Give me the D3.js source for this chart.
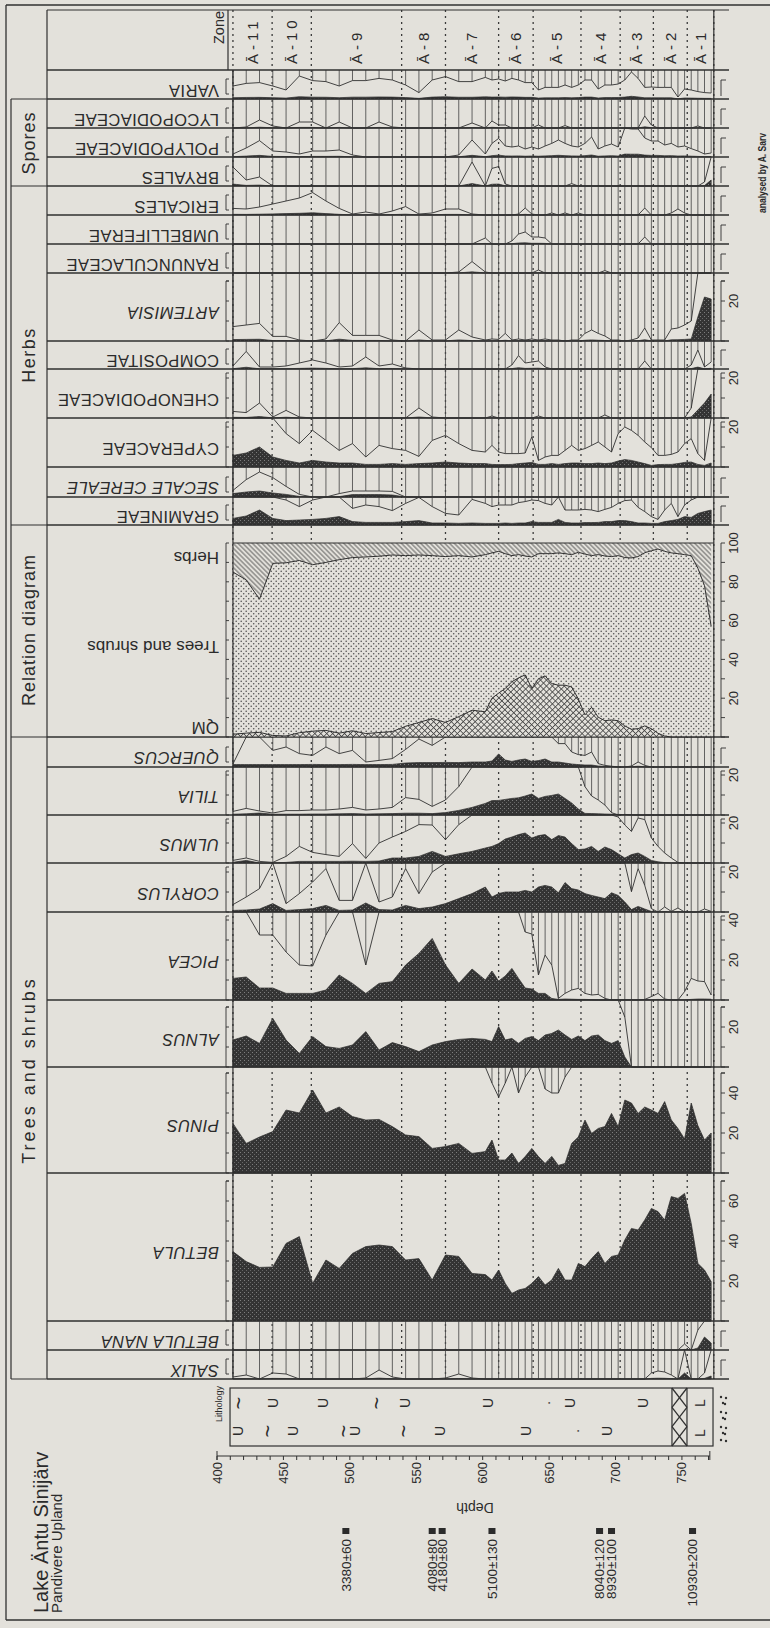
<!DOCTYPE html>
<html>
<head>
<meta charset="utf-8">
<title>Lake Äntu Sinijärv pollen diagram</title>
<script src="https://cdn.jsdelivr.net/npm/d3@7"></script>
<style>
  body { margin: 0; background: #e3e1db; }
  svg { display: block; }
  text { font-family: "Liberation Sans", Arial, sans-serif; fill: #2b2b2b; }
</style>
</head>
<body>
<svg id="chart"></svg>
<script>
// ---------------- data ----------------
// sample depths (cm)
var sampleDepths = [412, 422, 432, 442, 452, 462, 472, 482, 492, 502,
  512, 522, 532, 542, 552, 562, 572, 582, 592, 602,
  607, 612, 617, 622, 627, 632, 637, 642, 647, 652,
  657, 662, 667, 672, 677, 682, 687, 692, 697, 702,
  707, 712, 717, 722, 727, 732, 737, 742, 747, 752,
  757, 762, 767, 772];

var zoneBounds = [412, 441.5, 471, 539, 572, 612, 638, 674, 703.5, 728.5, 754, 774];
var zoneNames = ["Ā-11", "Ā-10", "Ā-9", "Ā-8", "Ā-7", "Ā-6", "Ā-5", "Ā-4", "Ā-3", "Ā-2", "Ā-1"];

var depthTicks = [400, 450, 500, 550, 600, 650, 700, 750];

var dateDepths = [497, 562, 569.5, 607, 688, 697, 758];
var dateLabels = ["3380±60", "4080±80", "4180±80", "5100±130", "8040±120", "8930±100", "10930±200"];

// lithology symbols: depth, row (0 upper / 1 lower), sign
var lithDepths = [416, 442, 480, 520, 541.5, 604, 649, 666, 721, 416, 438, 457, 495, 504, 540, 568, 633, 671, 694];
var lithRows = [0, 0, 0, 0, 0, 0, 0, 0, 0, 1, 1, 1, 1, 1, 1, 1, 1, 1, 1];
var lithSigns = ["~", "U", "U", "~", "U", "U", "·", "U", "U", "U", "~", "U", "~", "U", "~", "U", "U", "·", "U"];

// pollen percentages
var variaPct = [0.65, 0.78, 0.82, 0.65, 0.45, 1.15, 0.92, 0.87, 0.65, 0.92,
  0.92, 1.03, 0.95, 0.7, 0.32, 0.95, 1.12, 0.87, 0.87, 1.08,
  0.95, 1.0, 0.9, 1.03, 0.95, 0.82, 0.82, 0.45, 0.58, 0.58,
  0.58, 0.7, 0.58, 0.7, 0.95, 0.95, 0.5, 0.7, 0.7, 0.75,
  0.95, 1.35, 1.03, 0.58, 0.6, 0.58, 0.58, 0.58, 0.1, 0.5,
  0.45, 0.37, 0.32, 0.3];
var lycopodiaceaePct = [0, 0.05, 0.4, 0.1, 0, 0.3, 0.3, 0, 0.3, 0,
  0, 0.3, 0.05, 0, 0, 0, 0, 0, 0.25, 0,
  0.35, 0.15, 0.15, 0, 0, 0, 0, 0.15, 0, 0,
  0, 0.12, 0, 0, 0, 0, 0, 0, 0, 0,
  0, 0, 0, 0.6, 0.15, 0, 0, 0, 0, 0,
  0, 0.1, 0, 0];
var polypodiaceaePct = [0.15, 0.45, 0.82, 0.3, 0.25, 0.15, 0.3, 0.3, 0.35, 0.1,
  0, 0, 0, 0, 0, 0, 0, 0.1, 0.85, 0.15,
  0.68, 0.93, 0.55, 0.5, 0.55, 0.4, 0.5, 0.4, 0.55, 0.68,
  0.85, 0.68, 0.55, 0.5, 0.68, 1.0, 0.4, 0.55, 0.65, 0.5,
  1.45, 1.4, 1.4, 0.95, 0.8, 0.8, 0.6, 0.68, 0.5, 0.55,
  0.42, 0.3, 0.15, 0.2];
var bryalesPct = [0.95, 0.3, 0.45, 0, 0, 0, 0, 0, 0, 0,
  0, 0, 0, 0, 0, 0, 0, 0, 1.2, 0,
  0.88, 0.97, 0.1, 0, 0, 0, 0, 0, 0, 0,
  0, 0, 0.12, 0, 0, 0, 0, 0, 0, 0,
  0, 0, 0, 0, 0, 0, 0, 0, 0, 0,
  0, 0, 0.2, 3];
var ericalesPct = [0.33, 0.3, 0.4, 0.55, 0.7, 0.85, 1.12, 0.7, 0.33, 0.05,
  0.15, 0.05, 0.2, 0.42, 0.05, 0.1, 0.3, 0.3, 0.05, 0,
  0, 0, 0, 0, 0.05, 0.35, 0.05, 0, 0, 0.1,
  0, 0.1, 0, 0.1, 0, 0, 0, 0, 0, 0,
  0, 0, 0, 0.35, 0, 0, 0, 0.1, 0.3, 0.1,
  0, 0, 0, 0];
var umbelliferaePct = [0, 0, 0, 0, 0, 0, 0, 0, 0, 0,
  0, 0, 0, 0, 0, 0, 0, 0, 0, 0.3,
  0, 0, 0, 0.15, 0.5, 0.6, 0.35, 0.35, 0.3, 0,
  0, 0, 0, 0, 0, 0, 0, 0, 0, 0,
  0, 0, 0, 0.35, 0, 0, 0, 0, 0, 0,
  0, 0, 0, 0];
var ranunculaceaePct = [0, 0, 0, 0, 0, 0, 0, 0, 0, 0,
  0, 0, 0, 0, 0, 0, 0, 0.05, 0.57, 0.05,
  0, 0, 0, 0, 0, 0, 0, 0.15, 0, 0,
  0, 0, 0, 0, 0, 0, 0, 0.12, 0, 0,
  0, 0, 0, 0, 0, 0, 0, 0, 0, 0,
  0, 0, 0, 0];
var artemisiaPct = [0.72, 0.8, 0.88, 0.23, 0.23, 0.05, 0, 0.1, 0.92, 0.28,
  0.28, 0.28, 0.05, 0, 0.55, 0.05, 0.05, 0.55, 0.2, 0.05,
  0.1, 0.08, 0.38, 0.05, 0.1, 0.05, 0.1, 0.05, 0.1, 0.05,
  0.05, 0, 0.05, 0.05, 0.38, 0.55, 0.38, 0.25, 0.05, 0.05,
  0, 0.05, 0.15, 0.65, 0.05, 0.05, 0.05, 0.6, 0.65, 0.8,
  1.0, 12, 22, 21];
var compositaePct = [0.15, 0.88, 0.1, 0.1, 0.15, 0.3, 0.45, 0.3, 0.1, 0.15,
  0.6, 0.15, 0.25, 0.05, 0, 0, 0, 0, 0, 0,
  0, 0, 0, 0.2, 0.67, 0.3, 0.35, 0.4, 0.1, 0,
  0, 0, 0, 0, 0, 0, 0, 0, 0, 0,
  0, 0, 0, 0.4, 0, 0, 0, 0, 0, 0,
  0.2, 0.95, 0.1, 0.35];
var chenopodiaceaePct = [0.33, 0.27, 0.75, 0.05, 0.38, 0.05, 0, 0, 0, 0,
  0, 0, 0, 0, 0.5, 0.05, 0, 0, 0, 0,
  0.1, 0, 0, 0, 0, 0, 0, 0.1, 0, 0,
  0, 0, 0, 0, 0, 0, 0, 0.15, 0, 0,
  0, 0, 0, 0, 0, 0, 0, 0, 0, 0,
  0.5, 4, 7.5, 12];
var cyperaceaePct = [5.8, 7, 10, 5, 3.3, 2, 3.3, 2.5, 2, 2,
  1.3, 1.3, 1.7, 1.3, 1.7, 2, 2.5, 2, 1.7, 1.7,
  1.3, 1.2, 1.2, 1.3, 1.7, 2, 2.3, 1.3, 1.3, 1.7,
  1.3, 1.7, 2, 2, 1.7, 1.7, 2, 1.7, 2, 3,
  3.7, 3.3, 2.5, 1.7, 0.8, 1.2, 1.3, 1.3, 1.7, 2.3,
  2.5, 1.3, 0.8, 2];
var cyperaceaeOutline = [30, 30, 30, 30, 16.7, 11.7, 18.3, 13.3, 8.3, 11.7,
  5, 10.8, 9.2, 8.3, 5.3, 13.3, 15.8, 11.7, 8.3, 7.5,
  10.8, 7.5, 6.7, 6.7, 6.7, 7, 15, 3.3, 5, 5.8,
  5.8, 8.3, 10.8, 8.3, 9.2, 10.8, 12.5, 10, 7.5, 16.7,
  20, 18.3, 15.8, 12.5, 9.7, 5.8, 5.8, 6.3, 7.5, 11.7,
  14.2, 6.7, 3.3, 30];
var secalePct = [1.7, 2.5, 3.0, 2.0, 1.3, 0.3, 0, 0, 0.2, 1.2,
  1.2, 1.2, 1.0, 0, 0, 0, 0, 0, 0, 0,
  0, 0, 0, 0, 0, 0, 0, 0, 0, 0,
  0, 0, 0, 0, 0, 0, 0, 0, 0, 0,
  0, 0, 0, 0, 0, 0, 0, 0, 0, 0,
  0, 0, 0, 0];
var secaleOutline = [3.3, 8.7, 12.5, 9.7, 5.3, 1.3, 0, 0, 1.7, 3,
  3, 3, 2.8, 0, 0, 0, 0, 0, 0, 0,
  0, 0, 0, 0, 0, 0, 0, 0, 0, 0,
  0, 0, 0, 0, 0, 0, 0, 0, 0, 0,
  0, 0, 0, 0, 0, 0, 0, 0, 0, 0,
  0, 0, 0, 0];
var gramineaePct = [3.3, 4.5, 7.5, 3.3, 2.2, 2.5, 2.8, 3.3, 4.2, 1.7,
  1.3, 1.3, 1.3, 1.7, 2.2, 1.0, 1.0, 0.8, 1.0, 0.8,
  0.8, 0.8, 1.0, 0.8, 1.0, 1.0, 1.7, 1.3, 1.3, 1.3,
  2.8, 1.3, 1.0, 1.0, 1.2, 1.2, 1.3, 1.7, 1.7, 2.2,
  2.2, 1.7, 1.0, 1.0, 0.8, 0.8, 1.7, 2.2, 2.8, 4.2,
  3.8, 5.8, 6.7, 7.5];
var gramineaeOutline = [20, 20, 20, 20, 12.5, 9.2, 12.5, 20, 20, 8.3,
  10, 9.2, 7.2, 10.8, 13.8, 9.2, 5.8, 5, 12.8, 10.8,
  9.2, 10, 10, 10, 11.2, 11.7, 12.5, 12.2, 10.8, 10,
  20, 7.5, 7.5, 7.5, 7.8, 7.5, 6.7, 7.8, 8.8, 10.8,
  12.2, 12.5, 8.8, 6.7, 4.2, 2.8, 7.5, 10.8, 4.2, 10,
  12.5, 20, 20, 20];

// relation diagram: arboreal pollen (trees + shrubs) and QM, % of total
var apPct = [85, 81, 71, 89.5, 89.8, 91, 88.8, 90, 91.4, 92.5,
  92.8, 93.2, 93.8, 93.5, 93.8, 93.5, 93, 93.5, 92.8, 94,
  94.9, 95.7, 94.5, 93.5, 94, 93.3, 92.8, 94.5, 94.5, 94.5,
  94.9, 94.5, 94, 95.2, 94.3, 93.5, 94, 93.3, 93, 93.5,
  92.5, 92.3, 93, 95, 96, 96.9, 95.7, 94.9, 94.5, 94,
  93.5, 87, 78, 57];
var qmPct = [1.4, 2.0, 2.4, 0.8, 0.5, 2.2, 3.0, 3.4, 2.0, 3.2,
  1.8, 2.3, 2.8, 5.5, 7.5, 9.5, 7.5, 10.5, 13.8, 13,
  20, 22.6, 25, 28.5, 30.5, 32, 25, 30, 31.5, 27.5,
  26.7, 26.7, 25.8, 19.6, 11.4, 15.3, 10.2, 8.4, 8.8, 8.4,
  5.7, 4, 4.3, 5.7, 4.3, 1.9, 0.5, 0, 0, 0,
  0, 0, 0, 0];

var quercusPct = [1.2, 1.2, 1.2, 1.2, 1.2, 1.2, 1.3, 1.2, 1.2, 1.3,
  1.2, 1.2, 1.3, 2.0, 2.2, 2.2, 2.3, 2.2, 2.5, 2.5,
  3, 6.5, 3.5, 2.8, 3.5, 4, 2.8, 3.2, 4, 2.5,
  2.5, 2.0, 1.5, 1.2, 1.0, 1.0, 0.5, 0.3, 0.2, 0,
  0, 0.1, 0.4, 0.1, 0, 0, 0, 0, 0, 0,
  0, 0, 0, 0];
var quercusOutline = [1.5, 20, 20, 8.3, 10, 6.7, 5.8, 10, 6.7, 8.3,
  2.5, 3.3, 4.2, 8.8, 14, 10.8, 20, 20, 20, 20,
  20, 20, 20, 20, 20, 20, 20, 20, 20, 20,
  11.7, 11.7, 7.5, 6.2, 5.8, 7.5, 1.7, 0.8, 0.4, 0,
  0, 0.5, 2.5, 0.8, 0, 0, 0, 0, 0, 0,
  0, 0, 0, 0];
var tiliaPct = [0.4, 0.6, 1.0, 0.4, 0.4, 0.4, 0.5, 0.5, 0.6, 0.7,
  0.5, 0.6, 0.7, 0.9, 0.9, 0.7, 1.2, 2.3, 3.8, 5.8,
  7.2, 7.3, 7.8, 8.3, 8.6, 9.5, 10.5, 8.3, 9.3, 9.8,
  10.5, 8.3, 6, 3, 0.8, 0.7, 0.6, 0.5, 0.4, 0.3,
  0.2, 0.1, 0, 0, 0, 0, 0, 0, 0, 0,
  0, 0, 0, 0];
var tiliaOutline = [1.8, 3.3, 2.0, 1.0, 2.2, 2.2, 2.5, 2.5, 3, 3.8,
  2.5, 3, 3.8, 8.7, 7.8, 4.3, 7.5, 14.2, 30, 30,
  30, 30, 30, 30, 30, 30, 30, 30, 30, 30,
  30, 30, 30, 30, 14.2, 9.5, 7.5, 5, 1.2, 0,
  0.3, 0, 0, 0, 0, 0, 0, 0, 0, 0,
  0, 0, 0, 0];
var ulmusPct = [0.35, 1.3, 0, 0, 0.3, 0.8, 0.8, 0.8, 0.8, 0.9,
  0.8, 1.0, 2.5, 2.5, 3.3, 5.8, 3.3, 4.6, 5.8, 7.5,
  8.3, 9.7, 12, 13, 14.2, 15, 12.5, 13.7, 14.2, 11.7,
  13.7, 13, 9.7, 6.7, 7, 8.3, 5.8, 8, 6.7, 4.6,
  2.5, 4.2, 5, 3.3, 1.3, 0.6, 0.2, 0, 0, 0,
  0, 0, 0, 0];
var ulmusOutline = [1.3, 2.5, 0.8, 0.3, 3.3, 8.3, 5.3, 4.2, 3.3, 9.7,
  2.3, 10, 13, 15.8, 19.2, 19, 11.7, 19.2, 30, 30,
  30, 30, 30, 30, 30, 30, 30, 30, 30, 30,
  30, 30, 30, 30, 30, 30, 30, 30, 30, 23,
  19, 15.8, 22.5, 21.7, 12.5, 8.3, 5, 2.5, 0.3, 0,
  0, 0, 0, 0];
var corylusPct = [0.8, 1.0, 1.5, 4.2, 0.8, 1.2, 1.7, 3.3, 0.8, 1.0,
  4.5, 1.2, 1.0, 3.3, 1.7, 2.5, 4.2, 6.7, 9.2, 12.5,
  7.5, 9.2, 10, 10, 10, 10.8, 10, 12.5, 13.3, 12.5,
  9.6, 14.7, 11.7, 11, 9.2, 8.3, 7.5, 6.7, 9.6, 8.3,
  5, 1.2, 2.8, 1.5, 0.3, 0, 0.2, 0, 0.2, 0,
  0, 0, 0.1, 0];
var corylusOutline = [3.7, 7.5, 11.7, 30, 4.2, 9.2, 15, 21.7, 5.8, 5.8,
  30, 5, 7.5, 21.7, 9.2, 20, 30, 30, 30, 30,
  30, 30, 30, 30, 30, 30, 30, 30, 30, 30,
  30, 30, 30, 30, 30, 30, 30, 30, 30, 30,
  30, 10.2, 21.7, 13.3, 1.7, 0, 2.5, 0.3, 2, 0,
  0, 0, 1.5, 0.3];
var piceaPct = [10.8, 11.5, 6, 6, 3.3, 3.3, 3.3, 5, 12.5, 8.3,
  3.3, 8.3, 9.2, 17.5, 23.3, 30.8, 17.5, 8.3, 15.5, 10,
  14.5, 9.5, 12, 15.8, 10.8, 6, 5.5, 3.3, 3.3, 0.8,
  0.3, 0.5, 0.4, 0.3, 0.3, 0.2, 0.1, 0.1, 0.1, 0.1,
  0.1, 0.1, 0.1, 0.1, 0.1, 0.3, 0.1, 0.1, 0.1, 0.1,
  0.3, 0.5, 0.5, 0.4];
var piceaOutline = [50, 50, 32.5, 32.5, 24, 17.5, 17, 32.5, 50, 50,
  17.5, 50, 50, 50, 50, 50, 50, 50, 50, 50,
  50, 50, 50, 50, 50, 34, 33, 12.5, 22.5, 17.5,
  0.8, 3.3, 5, 5.8, 3.3, 2.5, 2.8, 0.8, 0, 0,
  0, 0, 0, 0.3, 1.7, 3.3, 0.5, 0, 0, 4.2,
  10.8, 9.5, 9.2, 2.5];
var alnusPct = [13.5, 15.5, 11.8, 24.3, 13.5, 6.8, 15.2, 10.2, 9.3, 11,
  17.7, 8.5, 12.2, 10.2, 7.7, 11, 12.7, 13.8, 14.3, 13.8,
  12.7, 20.2, 13.5, 14.3, 11.8, 14.3, 15.2, 13.2, 16, 16.8,
  18.5, 16, 13.8, 15.5, 13.2, 15.5, 16, 13.2, 11.8, 13.2,
  5, 0, 0, 0, 0, 0, 0, 0, 0, 0,
  0, 0, 0, 0];
var pinusPct = [24.8, 14.8, 18, 20.7, 31.5, 30, 41.5, 30, 33, 28.2,
  26.5, 26.8, 23.2, 19, 18.2, 12.3, 13.2, 14.8, 9.8, 10.7,
  16.5, 6.5, 6.5, 10, 4.8, 8.2, 12.3, 8.2, 4.8, 8.3,
  3.8, 4.8, 14.8, 18, 26.5, 19.8, 22.3, 23.2, 29.8, 23.2,
  36.5, 35, 29.8, 33, 31.5, 29.8, 35.7, 26.5, 22.3, 17,
  35, 23.7, 16.5, 20];
var pinusOutline = [60, 60, 60, 60, 60, 60, 60, 60, 60, 60,
  60, 60, 60, 60, 60, 60, 60, 60, 60, 60,
  45, 38, 45, 60, 40, 48, 60, 60, 42, 40,
  40, 48, 60, 60, 60, 60, 60, 60, 60, 60,
  60, 60, 60, 60, 60, 60, 60, 60, 60, 60,
  60, 60, 60, 60];
var betulaPct = [34.7, 29.7, 26.8, 27, 38.8, 42.2, 18.8, 30.5, 26.3, 33.8,
  37.2, 38, 37.2, 30.5, 31.2, 20.5, 33, 32.3, 23.8, 23.2,
  20.5, 25.5, 18.8, 13.8, 15.5, 16.3, 18.8, 22.2, 18, 20.5,
  26.3, 20.5, 20.5, 28.8, 27.2, 31.2, 34.7, 28.8, 32.3, 33,
  40.5, 46.3, 45.5, 50.5, 56.3, 54.7, 50.5, 62.2, 61.3, 63.8,
  48.8, 28.8, 25.5, 19.7];
var betulaNanaPct = [0, 0, 0, 0, 0, 0, 0, 0, 0, 0,
  0, 0, 0, 0, 0, 0, 0, 0, 0, 0,
  0, 0, 0, 0, 0, 0, 0, 0, 0, 0,
  0, 0, 0, 0, 0, 0, 0, 0, 0, 0,
  0, 0, 0, 0, 0, 0, 0, 0, 0, 0.3,
  0, 1, 6.5, 3.5];
var salixPct = [0.1, 0.2, 0, 0.3, 0.25, 0, 0, 0, 0, 0,
  0.05, 0.45, 0.1, 0, 0, 0, 0.05, 0.25, 0.05, 0,
  0, 0, 0, 0, 0, 0, 0, 0, 0, 0,
  0, 0, 0, 0, 0, 0, 0, 0, 0, 0,
  0, 0, 0, 0, 0.3, 0.4, 0.35, 0.2, 0, 3,
  0, 0, 0.3, 1.5];

// ---------------- chart ----------------
var svgWidth = 770;
var svgHeight = 1628;
var ink = "#303030";
var paper = "#e3e1db";

var svg = d3.select("#chart").attr("width", svgWidth).attr("height", svgHeight);

// depth scale (the original page is turned: depth runs left to right)
var x = d3.scaleLinear().domain([400, 770]).range([217, 708.5]);
var plotLeft = x(412);
var plotRight = x(774);
var nameX = 219;
var leftScaleX = 226;
var rightScaleX = 721;
var scaleLabelX = 733;
var diagramBottom = 1379;

// taxa rows, top to bottom
var taxa = [
  {name: "VARIA", top: 70, bottom: 99, values: variaPct, exag: 10},
  {name: "LYCOPODIACEAE", top: 99, bottom: 128, values: lycopodiaceaePct, exag: 10},
  {name: "POLYPODIACEAE", top: 128, bottom: 157, values: polypodiaceaePct, exag: 10},
  {name: "BRYALES", top: 157, bottom: 186, values: bryalesPct, exag: 10},
  {name: "ERICALES", top: 186, bottom: 215, values: ericalesPct, exag: 10},
  {name: "UMBELLIFERAE", top: 215, bottom: 244, values: umbelliferaePct, exag: 10},
  {name: "RANUNCULACEAE", top: 244, bottom: 273, values: ranunculaceaePct, exag: 10},
  {name: "ARTEMISIA", italic: true, top: 273, bottom: 341, values: artemisiaPct, exag: 10, ticks: [20]},
  {name: "COMPOSITAE", top: 341, bottom: 369, values: compositaePct, exag: 10},
  {name: "CHENOPODIACEAE", top: 369, bottom: 418, values: chenopodiaceaePct, exag: 10, ticks: [20]},
  {name: "CYPERACEAE", top: 418, bottom: 467, values: cyperaceaePct, outline: cyperaceaeOutline, ticks: [20]},
  {name: "SECALE CEREALE", italic: true, top: 467, bottom: 497, values: secalePct, outline: secaleOutline},
  {name: "GRAMINEAE", top: 497, bottom: 525, values: gramineaePct, outline: gramineaeOutline},
  {name: "QUERCUS", italic: true, top: 737, bottom: 767, values: quercusPct, outline: quercusOutline},
  {name: "TILIA", italic: true, top: 767, bottom: 815, values: tiliaPct, outline: tiliaOutline, ticks: [20]},
  {name: "ULMUS", italic: true, top: 815, bottom: 863, values: ulmusPct, outline: ulmusOutline, ticks: [20]},
  {name: "CORYLUS", italic: true, top: 863, bottom: 912, values: corylusPct, outline: corylusOutline, ticks: [20]},
  {name: "PICEA", italic: true, top: 912, bottom: 1000, values: piceaPct, outline: piceaOutline, ticks: [20, 40]},
  {name: "ALNUS", italic: true, top: 1000, bottom: 1067, values: alnusPct, exag: 5, ticks: [20]},
  {name: "PINUS", italic: true, top: 1067, bottom: 1173, values: pinusPct, outline: pinusOutline, ticks: [20, 40]},
  {name: "BETULA", italic: true, top: 1173, bottom: 1321, values: betulaPct, exag: 10, ticks: [20, 40, 60]},
  {name: "BETULA NANA", italic: true, top: 1321, bottom: 1350, values: betulaNanaPct, exag: 10},
  {name: "SALIX", italic: true, top: 1350, bottom: 1379, values: salixPct, exag: 10}
];

// ---- fill patterns ----
var defs = svg.append("defs");

var darkTex = defs.append("pattern").attr("id", "darkTex")
  .attr("width", 4).attr("height", 4).attr("patternUnits", "userSpaceOnUse");
darkTex.append("rect").attr("width", 4).attr("height", 4).attr("fill", "#343434");
darkTex.append("rect").attr("x", 0).attr("y", 0).attr("width", 1).attr("height", 1).attr("fill", "#7e7e7e");
darkTex.append("rect").attr("x", 2).attr("y", 2).attr("width", 1).attr("height", 1).attr("fill", "#666");

var stipple = defs.append("pattern").attr("id", "stipple")
  .attr("width", 5).attr("height", 5).attr("patternUnits", "userSpaceOnUse");
stipple.append("circle").attr("cx", 1.2).attr("cy", 1.2).attr("r", 0.8).attr("fill", "#505050");
stipple.append("circle").attr("cx", 3.7).attr("cy", 3.7).attr("r", 0.8).attr("fill", "#505050");

var herbHatch = defs.append("pattern").attr("id", "herbHatch")
  .attr("width", 3.4).attr("height", 3.4).attr("patternUnits", "userSpaceOnUse")
  .attr("patternTransform", "rotate(-45)");
herbHatch.append("line").attr("x1", 1.7).attr("y1", 0).attr("x2", 1.7).attr("y2", 3.4)
  .attr("stroke", "#444").attr("stroke-width", 0.8);

var qmCross = defs.append("pattern").attr("id", "qmCross")
  .attr("width", 4.2).attr("height", 4.2).attr("patternUnits", "userSpaceOnUse")
  .attr("patternTransform", "rotate(45)");
qmCross.append("line").attr("x1", 2.1).attr("y1", 0).attr("x2", 2.1).attr("y2", 4.2)
  .attr("stroke", "#444").attr("stroke-width", 0.8);
qmCross.append("line").attr("x1", 0).attr("y1", 2.1).attr("x2", 4.2).attr("y2", 2.1)
  .attr("stroke", "#444").attr("stroke-width", 0.8);

// ---- frame helpers ----
function hLine(y, x1, x2, w) {
  svg.append("line").attr("x1", x1).attr("x2", x2).attr("y1", y).attr("y2", y)
    .attr("stroke", ink).attr("stroke-width", w || 1);
}
function vLine(xPos, y1, y2, w) {
  svg.append("line").attr("x1", xPos).attr("x2", xPos).attr("y1", y1).attr("y2", y2)
    .attr("stroke", ink).attr("stroke-width", w || 1);
}

// zone boundaries, dotted
svg.append("g").selectAll("line")
  .data(zoneBounds)
  .enter()
  .append("line")
  .attr("x1", d => x(d))
  .attr("x2", d => x(d))
  .attr("y1", 10)
  .attr("y2", diagramBottom)
  .attr("stroke", "#3a3a3a")
  .attr("stroke-width", 1.3)
  .attr("stroke-dasharray", "2,4");

// ---- taxa rows ----
taxa.forEach(function(t) {
  var g = svg.append("g");
  var maxPct = (t.bottom - t.top) / 2;   // 2 px per percent
  var y = d3.scaleLinear().domain([0, maxPct]).range([t.bottom, t.top]).clamp(true);
  // outline: either read separately, or the same values on an exaggerated scale
  var yOut = t.outline ? y :
    d3.scaleLinear().domain([0, maxPct / t.exag]).range([t.bottom, t.top]).clamp(true);
  var outVals = t.outline || t.values;

  // vertical sample lines from row top down to the outline curve
  g.append("g").selectAll("line")
    .data(outVals)
    .enter()
    .append("line")
    .attr("x1", (d, i) => x(sampleDepths[i]))
    .attr("x2", (d, i) => x(sampleDepths[i]))
    .attr("y1", t.top)
    .attr("y2", d => yOut(d))
    .attr("stroke", "#4a4a4a")
    .attr("stroke-width", 0.85)
    .style("display", d => (yOut(d) - t.top > 0.6 ? null : "none"));

  var area = d3.area()
    .x((d, i) => x(sampleDepths[i]))
    .y0(t.bottom)
    .y1(d => y(d));
  g.append("path").datum(t.values)
    .attr("d", area)
    .attr("fill", "url(#darkTex)")
    .attr("stroke", "#2a2a2a")
    .attr("stroke-width", 0.7);

  var line = d3.line()
    .x((d, i) => x(sampleDepths[i]))
    .y(d => yOut(d));
  g.append("path").datum(outVals)
    .attr("d", line)
    .attr("fill", "none")
    .attr("stroke", ink)
    .attr("stroke-width", 0.9);

  // taxon name, upside down like the turned page
  g.append("text")
    .attr("transform", `translate(${nameX}, ${(t.top + t.bottom) / 2 + 6}) rotate(180)`)
    .attr("dy", "0.35em")
    .style("font-size", "16.5px")
    .style("letter-spacing", "0.4px")
    .style("font-style", t.italic ? "italic" : "normal")
    .text(t.name);

  // scale marks
  if (t.ticks) {
    var topVal = Math.min(maxPct - 2, t.ticks[t.ticks.length - 1] + 10);
    var tickVals = d3.range(0, topVal + 0.1, 10);
    vLine(rightScaleX, t.bottom, y(topVal), 0.9);
    vLine(leftScaleX, t.bottom, y(topVal), 0.9);
    tickVals.forEach(function(v) {
      hLine(y(v), rightScaleX, rightScaleX + 4, 0.9);
      hLine(y(v), leftScaleX, leftScaleX + 3, 0.9);
    });
    hLine(y(topVal), rightScaleX, rightScaleX + 4, 0.9);
    hLine(y(topVal), leftScaleX, leftScaleX + 3, 0.9);
    t.ticks.forEach(function(v) {
      g.append("text")
        .attr("transform", `translate(${scaleLabelX}, ${y(v)}) rotate(-90)`)
        .attr("text-anchor", "middle")
        .attr("dy", "0.35em")
        .style("font-size", "13px")
        .text(v);
    });
  } else {
    vLine(rightScaleX, t.bottom - 3, t.bottom - 19, 0.9);
    hLine(t.bottom - 19, rightScaleX, rightScaleX + 5, 0.9);
    vLine(leftScaleX, t.bottom - 5, t.bottom - 20, 0.9);
    hLine(t.bottom - 20, leftScaleX, leftScaleX + 3, 0.9);
    hLine(t.bottom - 5, leftScaleX, leftScaleX + 3, 0.9);
  }

  hLine(t.bottom, 47, 729, 1.2);
  hLine(t.top, 47, 729, 1.2);
});

// ---- relation diagram ----
var relTop = 543, relBottom = 737;
var yRel = d3.scaleLinear().domain([0, 100]).range([relBottom, relTop]);
var relG = svg.append("g");
var xs = (d, i) => x(sampleDepths[i]);

function relArea(data, from, fill) {
  relG.append("path").datum(data)
    .attr("d", d3.area().x(xs).y0(yRel(from)).y1(d => yRel(d)))
    .attr("fill", paper);
  relG.append("path").datum(data)
    .attr("d", d3.area().x(xs).y0(yRel(from)).y1(d => yRel(d)))
    .attr("fill", fill);
}
relArea(apPct, 100, "url(#herbHatch)");
relArea(apPct, 0, "url(#stipple)");
relArea(qmPct, 0, "url(#qmCross)");
relG.append("path").datum(apPct)
  .attr("d", d3.line().x(xs).y(d => yRel(d)))
  .attr("fill", "none").attr("stroke", ink).attr("stroke-width", 1);
relG.append("path").datum(qmPct)
  .attr("d", d3.line().x(xs).y(d => yRel(d)))
  .attr("fill", "none").attr("stroke", ink).attr("stroke-width", 1);
hLine(relTop, plotLeft, plotRight, 1.1);

vLine(rightScaleX, relBottom, relTop, 0.9);
vLine(leftScaleX, relBottom, relTop, 0.9);
d3.range(0, 101, 10).forEach(function(v) {
  hLine(yRel(v), rightScaleX, rightScaleX + 4, 0.9);
  hLine(yRel(v), leftScaleX, leftScaleX + 3, 0.9);
});
[20, 40, 60, 80, 100].forEach(function(v) {
  relG.append("text")
    .attr("transform", `translate(${scaleLabelX}, ${yRel(v)}) rotate(-90)`)
    .attr("text-anchor", "middle")
    .attr("dy", "0.35em")
    .style("font-size", "13px")
    .text(v);
});
[["Herbs", 558], ["Trees and shrubs", 647], ["QM", 728]].forEach(function(p) {
  relG.append("text")
    .attr("transform", `translate(${nameX}, ${p[1]}) rotate(180)`)
    .attr("dy", "0.35em")
    .style("font-size", "17px")
    .text(p[0]);
});
hLine(525, 11, 729, 1.2);
hLine(737, 11, 729, 1.2);

// ---- outer frame and columns ----
vLine(plotLeft, 70, diagramBottom, 1.2);
vLine(plotRight, 10, diagramBottom, 1.2);
vLine(47, 10, diagramBottom, 1.2);
vLine(228, 10, 70, 1.2);
hLine(10, 47, 729, 1.2);
hLine(70, 47, 729, 1.2);
hLine(5, 6, 770, 1.3);
hLine(1620, 6, 770, 1.3);
vLine(6, 5, 1620, 1.3);
vLine(11, 99, diagramBottom, 1.2);
hLine(99, 11, 47, 1.2);
hLine(186, 11, 47, 1.2);
hLine(diagramBottom, 11, 729, 1.2);

// group labels
[["Spores", 143, 1], ["Herbs", 355, 1.5], ["Relation diagram", 630, 1], ["Trees and shrubs", 1070, 3]]
  .forEach(function(p) {
    svg.append("text")
      .attr("transform", `translate(29, ${p[1]}) rotate(-90)`)
      .attr("text-anchor", "middle")
      .attr("dy", "0.35em")
      .style("font-size", "18px")
      .style("letter-spacing", p[2] + "px")
      .text(p[0]);
  });

// zone header
svg.append("text")
  .attr("transform", "translate(219, 44) rotate(-90)")
  .attr("dy", "0.35em")
  .style("font-size", "14.5px")
  .text("Zone");
svg.append("g").selectAll("text")
  .data(zoneNames)
  .enter()
  .append("text")
  .attr("transform", (d, i) => `translate(${(x(zoneBounds[i]) + x(zoneBounds[i + 1])) / 2}, 64) rotate(-90)`)
  .attr("dy", "0.35em")
  .style("font-size", "15px")
  .style("letter-spacing", "4px")
  .text(d => d);

svg.append("text")
  .attr("transform", "translate(762, 173) rotate(-90)")
  .attr("text-anchor", "middle")
  .attr("dy", "0.35em")
  .attr("textLength", 80)
  .attr("lengthAdjust", "spacingAndGlyphs")
  .style("font-size", "11px")
  .style("font-weight", "bold")
  .text("analysed by A. Sarv");

// ---- lithology ----
var lithTop = 1388, lithBottom = 1446;
svg.append("rect")
  .attr("x", x(409.8)).attr("y", lithTop)
  .attr("width", x(773.4) - x(409.8)).attr("height", lithBottom - lithTop)
  .attr("fill", "none").attr("stroke", ink).attr("stroke-width", 1.2);
vLine(x(742.5), lithTop, lithBottom, 1.2);
vLine(x(753.8), lithTop, lithBottom, 1.2);
var xa = x(742.5), xb = x(753.8), seg = (lithBottom - lithTop) / 3;
for (var k = 0; k < 3; k++) {
  svg.append("line").attr("x1", xa).attr("y1", lithTop + k * seg).attr("x2", xb).attr("y2", lithTop + (k + 1) * seg)
    .attr("stroke", ink).attr("stroke-width", 1.3);
  svg.append("line").attr("x1", xb).attr("y1", lithTop + k * seg).attr("x2", xa).attr("y2", lithTop + (k + 1) * seg)
    .attr("stroke", ink).attr("stroke-width", 1.3);
}
svg.append("g").selectAll("text")
  .data(lithSigns)
  .enter()
  .append("text")
  .attr("transform", (d, i) => `translate(${x(lithDepths[i])}, ${lithRows[i] ? 1431 : 1403}) rotate(-90)`)
  .attr("text-anchor", "middle")
  .attr("dy", "0.35em")
  .style("font-size", d => (d === "~" ? "22px" : "14px"))
  .text(d => d);
[1403, 1433].forEach(function(yy) {
  svg.append("text")
    .attr("transform", `translate(${x(763.6)}, ${yy}) rotate(-90)`)
    .attr("text-anchor", "middle")
    .attr("dy", "0.35em")
    .style("font-size", "14px")
    .text("L");
});
[1397, 1403, 1412, 1418, 1427, 1433, 1440].forEach(function(yy, i) {
  svg.append("circle").attr("cx", 721 + (i % 2) * 2).attr("cy", yy).attr("r", 1.2).attr("fill", ink);
  svg.append("circle").attr("cx", 726 - (i % 2)).attr("cy", yy + 1).attr("r", 1.2).attr("fill", ink);
});
svg.append("text")
  .attr("transform", "translate(219, 1386) rotate(-90)")
  .attr("text-anchor", "end")
  .attr("dy", "0.35em")
  .style("font-size", "9px")
  .text("Lithology");

// ---- depth axis ----
var axisY = 1456;
hLine(axisY, x(400), x(771), 1.2);
svg.append("g").selectAll("line")
  .data(d3.range(400, 771, 10))
  .enter()
  .append("line")
  .attr("x1", d => x(d)).attr("x2", d => x(d))
  .attr("y1", axisY).attr("y2", axisY + 4)
  .attr("stroke", ink).attr("stroke-width", 1);
vLine(x(400), axisY - 5, axisY + 4, 1);
vLine(x(771), axisY - 5, axisY + 4, 1);
svg.append("g").selectAll("text")
  .data(depthTicks)
  .enter()
  .append("text")
  .attr("transform", d => `translate(${x(d)}, 1462) rotate(-90)`)
  .attr("text-anchor", "end")
  .attr("dy", "0.35em")
  .style("font-size", "13px")
  .text(d => d);
svg.append("text")
  .attr("transform", "translate(475, 1508) rotate(180)")
  .attr("text-anchor", "middle")
  .attr("dy", "0.35em")
  .style("font-size", "14px")
  .text("Depth");

// radiocarbon dates
svg.append("g").selectAll("text")
  .data(dateLabels)
  .enter()
  .append("text")
  .attr("transform", (d, i) => `translate(${x(dateDepths[i])}, 1539) rotate(-90)`)
  .attr("text-anchor", "end")
  .attr("dy", "0.35em")
  .style("font-size", "13.5px")
  .text(d => d);
svg.append("g").selectAll("rect")
  .data(dateDepths)
  .enter()
  .append("rect")
  .attr("x", d => x(d) - 3.5)
  .attr("y", 1528)
  .attr("width", 7)
  .attr("height", 6)
  .attr("fill", "#2b2b2b");

// title
svg.append("text")
  .attr("transform", "translate(48, 1613) rotate(-90)")
  .style("font-size", "20px")
  .text("Lake Äntu Sinijärv");
svg.append("text")
  .attr("transform", "translate(62, 1613) rotate(-90)")
  .style("font-size", "15px")
  .text("Pandivere Upland");
</script>
</body>
</html>
